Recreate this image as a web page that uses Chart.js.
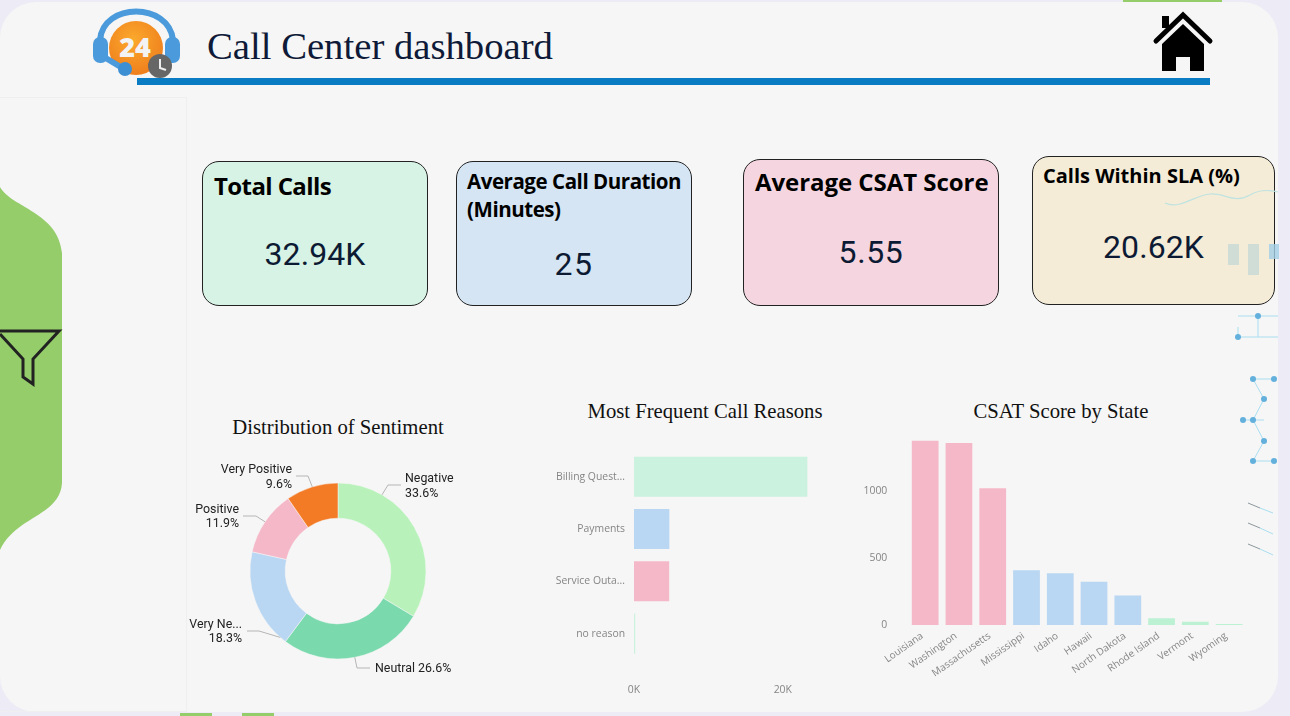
<!DOCTYPE html>
<html>
<head>
<meta charset="utf-8">
<title>Call Center dashboard</title>
<script src="https://cdn.jsdelivr.net/npm/chart.js@4"></script>
<style>
    html, body { margin: 0; width: 1290px; height: 716px; overflow: hidden; background: #edecf6; }
    .panel { position: absolute; left: 0; top: 2px; width: 1278px; height: 710px; background: #f6f6f6; border-radius: 36px; }
    .tab { position: absolute; background: #95cd6b; }
    .side { position: absolute; left: -1px; top: 97px; width: 188px; height: 615px; border: 1px solid #efefef; box-sizing: border-box; }
    .deco { position: absolute; left: 0; top: 0; }
    .page-title { position: absolute; left: 207px; top: 24px; font: 38.7px "Liberation Serif", serif; color: #0f1a38; white-space: nowrap; }
    .rule { position: absolute; left: 137px; top: 78px; width: 1073px; height: 7px; background: #0a7cc4; }
    .card { position: absolute; border: 1px solid #222; border-radius: 17px; box-sizing: border-box; }
    .card .name { position: absolute; font-family: "Open Sans", sans-serif; font-weight: 700; color: #000; white-space: nowrap; }
    .card .value { position: absolute; left: 0; right: 0; text-align: center; font-family: Roboto, sans-serif; color: #0d1a33; }
    .chart-title { position: absolute; font: 20.7px "Liberation Serif", serif; color: #111; white-space: nowrap; transform: translateX(-50%); }
    canvas { position: absolute; }
</style>
</head>
<body>
<div class="panel"></div>
<div class="tab" style="left:1123px;top:0;width:99px;height:2px"></div>
<div class="tab" style="left:180px;top:713px;width:32px;height:3px"></div>
<div class="tab" style="left:242px;top:713px;width:32px;height:3px"></div>
<div class="side"></div>

<svg class="deco" width="1290" height="716">
    <defs>
        <radialGradient id="orange" cx="0.45" cy="0.35" r="0.7">
            <stop offset="0" stop-color="#fba92c"/>
            <stop offset="1" stop-color="#ee7c1c"/>
        </radialGradient>
    </defs>
    <!-- filter tab -->
    <path d="M0 187 C12 208 58 212 62 253 L62 483 C60 516 16 516 0 550 Z" fill="#95cd6b"/>
    <path d="M0 331 L59 331 L33 359 L33 384 L23 377 L23 359 L0 334" fill="none" stroke="#222" stroke-width="3"/>
    <!-- logo -->
    <path d="M100 40 C103 2 169 2 173 40" fill="none" stroke="#4b9bdc" stroke-width="6"/>
    <circle cx="136" cy="48" r="27" fill="url(#orange)"/>
    <rect x="93" y="37" width="15" height="26" rx="7" fill="#4b9bdc"/>
    <rect x="165" y="37" width="15" height="26" rx="7" fill="#4b9bdc"/>
    <path d="M104 57 L124 69" stroke="#4b9bdc" stroke-width="6" stroke-linecap="round"/>
    <circle cx="125" cy="69" r="7" fill="#3d8fd4"/>
    <text x="135" y="57" text-anchor="middle" font-family="Open Sans, sans-serif" font-weight="800" font-size="27" fill="#f3f3f3">24</text>
    <circle cx="160" cy="66" r="12" fill="#666"/>
    <path d="M160 59 L160 68 L166 70" fill="none" stroke="#eee" stroke-width="2"/>
    <!-- home icon -->
    <rect x="1162" y="16" width="7" height="12" fill="#000"/>
    <path d="M1156 41 L1183 15 L1210 41" fill="none" stroke="#000" stroke-width="5" stroke-linecap="round"/>
    <path d="M1183 24 L1204 44 L1204 71 L1190 71 L1190 57 L1176 57 L1176 71 L1162 71 L1162 44 Z" fill="#000"/>
</svg>

<div class="page-title">Call Center dashboard</div>
<div class="rule"></div>

<div class="card" style="left:202px;top:161px;width:226px;height:145px;background:#d6f3e5">
    <div class="name" style="left:11px;top:7px;font-size:24px;letter-spacing:-0.6px">Total Calls</div>
    <div class="value" style="top:73px;font-size:32px;letter-spacing:0.1px">32.94K</div>
</div>
<div class="card" style="left:456px;top:161px;width:236px;height:145px;background:#d5e5f4">
    <div class="name" style="left:10px;top:5px;font-size:20.5px;line-height:28px;letter-spacing:-0.45px">Average Call Duration<br>(Minutes)</div>
    <div class="value" style="top:83px;font-size:32px;letter-spacing:1.6px">25</div>
</div>
<div class="card" style="left:743px;top:159px;width:256px;height:147px;background:#f5d6e0">
    <div class="name" style="left:11px;top:5px;font-size:24px;letter-spacing:-0.05px">Average CSAT Score</div>
    <div class="value" style="top:73px;font-size:32px;letter-spacing:0.6px">5.55</div>
</div>
<div class="card" style="left:1032px;top:156px;width:243px;height:149px;background:#f4ecd7">
    <div class="name" style="left:10px;top:5px;font-size:20px">Calls Within SLA (%)</div>
    <div class="value" style="top:71px;font-size:32px;letter-spacing:0.1px">20.62K</div>
</div>

<div class="chart-title" style="left:338px;top:416px">Distribution of Sentiment</div>
<div class="chart-title" style="left:705px;top:400px">Most Frequent Call Reasons</div>
<div class="chart-title" style="left:1061px;top:400px">CSAT Score by State</div>

<canvas id="chartSentiment" width="320" height="260" style="left:178px;top:441px"></canvas>
<canvas id="chartReasons" width="320" height="270" style="left:530px;top:440px"></canvas>
<canvas id="chartState" width="430" height="300" style="left:850px;top:400px"></canvas>

<svg class="deco" width="1290" height="716">
    <!-- background doodles at the right edge -->
    <path d="M1165 203 C1180 210 1195 195 1210 194 C1225 193 1235 204 1250 195 C1260 189 1270 190 1278 192" fill="none" stroke="#bfe3e0" stroke-width="1.2"/>
    <rect x="1228" y="244" width="11" height="21" fill="#b5d3d6" opacity="0.6"/>
    <rect x="1248" y="244" width="11" height="31" fill="#b5d3d6" opacity="0.6"/>
    <rect x="1269" y="244" width="10" height="15" fill="#a3d0e6" opacity="0.8"/>
    <g fill="none" stroke="#a8def0" stroke-width="1">
        <path d="M1238 316 L1278 316 M1258 316 L1258 337 M1237 337 L1278 337 M1238 327 L1238 337"/>
        <path d="M1253 379 L1274 379 M1253 379 L1264 399 L1253 420 L1264 441 L1253 461 L1274 461 M1243 420 L1264 420"/>
        <path d="M1260 508 L1273 513 M1260 528 L1273 534 M1260 549 L1273 555"/>
    </g>
    <g fill="none" stroke="#8c979c" stroke-width="1">
        <path d="M1248 503 L1260 508 M1248 523 L1260 528 M1248 544 L1260 549"/>
    </g>
    <g fill="#63b0dc">
        <circle cx="1258" cy="316" r="3"/><circle cx="1238" cy="337" r="3"/>
        <circle cx="1253" cy="379" r="3"/><circle cx="1274" cy="379" r="3"/>
        <circle cx="1264" cy="399" r="3"/><circle cx="1243" cy="420" r="3"/>
        <circle cx="1253" cy="420" r="3"/><circle cx="1264" cy="441" r="3"/>
        <circle cx="1253" cy="461" r="3"/><circle cx="1274" cy="461" r="3"/>
    </g>
</svg>

<script>
// Distribution of Sentiment
const sentimentLabels = ['Negative', 'Neutral', 'Very Ne...', 'Positive', 'Very Positive'];
const sentimentValues = [33.6, 26.6, 18.3, 11.9, 9.6];
const sentimentColors = ['#b8f2ba', '#7bd9ae', '#b9d6f2', '#f4b8c9', '#f47b26'];

// Most Frequent Call Reasons
const reasonLabels = ['Billing Quest...', 'Payments', 'Service Outa...', 'no reason'];
const reasonValues = [23300, 4750, 4730, 160];
const reasonColors = ['#cbf1df', '#b9d6f2', '#f4b8c9', '#cbf1df'];
const reasonTicks = [0, 20000];

// CSAT Score by State
const stateLabels = ['Louisiana', 'Washington', 'Massachusetts', 'Mississippi', 'Idaho', 'Hawaii', 'North Dakota', 'Rhode Island', 'Vermont', 'Wyoming'];
const stateValues = [1375, 1358, 1020, 408, 386, 323, 221, 50, 25, 8];
const stateColors = ['#f4b8c9', '#f4b8c9', '#f4b8c9', '#b9d6f2', '#b9d6f2', '#b9d6f2', '#b9d6f2', '#bdf1d4', '#bdf1d4', '#bdf1d4'];
const stateTicks = [0, 500, 1000];

const axisFont = { family: '"Open Sans", sans-serif', size: 10.4 };
const axisColor = '#858585';

Chart.defaults.animation = false;
Chart.defaults.responsive = false;
Chart.defaults.plugins.legend.display = false;
Chart.defaults.plugins.tooltip.enabled = false;

// Power BI style outside labels: where each leader leaves the ring, and the text beside it
// (angle in degrees from 12 o'clock, the rest in pixels from the ring centre)
const leaderLayout = [
    { angle: 30, elbow: [50, -86], end: [63, -86], align: 'left', textX: 67, textY: [-92, -77] },
    { angle: 169, elbow: [19, 97], end: [32, 97], align: 'left', textX: 37, textY: [98] },
    { angle: 221, elbow: [-79, 60], end: [-91, 60], align: 'right', textX: -96, textY: [54, 68] },
    { angle: 304, elbow: [-82, -55], end: [-95, -55], align: 'right', textX: -99, textY: [-61, -47] },
    { angle: 343, elbow: [-30, -95], end: [-42, -95], align: 'right', textX: -46, textY: [-101, -86] }
];

const leaderLabels = {
    id: 'leaderLabels',
    afterDatasetsDraw(chart) {
        const ctx = chart.ctx;
        const arcs = chart.getDatasetMeta(0).data;
        arcs.forEach((arc, i) => {
            const cx = arc.x, cy = arc.y;
            const item = leaderLayout[i];
            const rad = item.angle * Math.PI / 180;
            ctx.save();
            ctx.strokeStyle = '#b5b5b5';
            ctx.lineWidth = 1;
            ctx.beginPath();
            ctx.moveTo(cx + Math.sin(rad) * arc.outerRadius, cy - Math.cos(rad) * arc.outerRadius);
            ctx.lineTo(cx + item.elbow[0], cy + item.elbow[1]);
            ctx.lineTo(cx + item.end[0], cy + item.end[1]);
            ctx.stroke();

            const pct = sentimentValues[i].toFixed(1) + '%';
            const lines = item.textY.length > 1 ? [sentimentLabels[i], pct] : [sentimentLabels[i] + ' ' + pct];
            ctx.font = '12.4px Roboto, sans-serif';
            ctx.fillStyle = '#222';
            ctx.textAlign = item.align;
            ctx.textBaseline = 'middle';
            lines.forEach((line, n) => ctx.fillText(line, cx + item.textX, cy + item.textY[n]));
            ctx.restore();
        });
    }
};

new Chart(document.getElementById('chartSentiment'), {
    type: 'doughnut',
    data: {
        labels: sentimentLabels,
        datasets: [{
            data: sentimentValues,
            backgroundColor: sentimentColors,
            borderColor: '#f6f6f6',
            borderWidth: 0.5
        }]
    },
    options: { radius: 88, cutout: '60%', layout: { padding: 0 } },
    plugins: [leaderLabels]
});

new Chart(document.getElementById('chartReasons'), {
    type: 'bar',
    data: {
        labels: reasonLabels,
        datasets: [{
            data: reasonValues,
            backgroundColor: reasonColors,
            borderWidth: 0,
            categoryPercentage: 0.88,
            barPercentage: 0.87
        }]
    },
    options: {
        indexAxis: 'y',
        layout: { padding: { top: 10.5, right: 30 } },
        scales: {
            x: {
                min: 0,
                max: 25000,
                border: { display: false },
                grid: { display: false },
                afterBuildTicks: scale => { scale.ticks = reasonTicks.map(value => ({ value })); },
                afterFit: scale => { scale.height = 50.2; },
                ticks: {
                    padding: 16,
                    maxRotation: 0,
                    color: axisColor,
                    font: axisFont,
                    callback: value => (value / 1000) + 'K'
                }
            },
            y: {
                border: { display: false },
                grid: { display: false },
                afterFit: scale => { scale.width = 104; },
                ticks: { padding: 1, color: axisColor, font: axisFont, autoSkip: false }
            }
        }
    }
});

new Chart(document.getElementById('chartState'), {
    type: 'bar',
    data: {
        labels: stateLabels,
        datasets: [{
            data: stateValues,
            backgroundColor: stateColors,
            borderWidth: 0,
            categoryPercentage: 0.9,
            barPercentage: 0.88
        }]
    },
    options: {
        layout: { padding: { top: 37.4, right: 34 } },
        scales: {
            x: {
                border: { display: false },
                grid: { display: false, drawTicks: false },
                afterFit: scale => { scale.height = 75; },
                ticks: { minRotation: 35, maxRotation: 35, padding: 5, labelOffset: -3, color: axisColor, font: { family: axisFont.family, size: 10 }, autoSkip: false }
            },
            y: {
                min: 0,
                max: 1400,
                border: { display: false },
                grid: { display: false },
                afterBuildTicks: scale => { scale.ticks = stateTicks.map(value => ({ value })); },
                afterFit: scale => { scale.width = 58.3; },
                ticks: { padding: 13, color: axisColor, font: axisFont, callback: value => String(value) }
            }
        }
    }
});
</script>
</body>
</html>
